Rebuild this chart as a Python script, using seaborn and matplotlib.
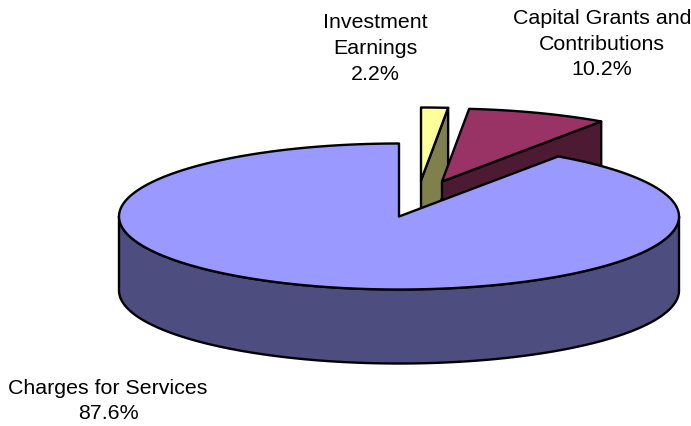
import numpy as np
import matplotlib
matplotlib.use("Agg")
import matplotlib.pyplot as plt
import seaborn as sns

# --- data ---
categories = ["Investment\nEarnings", "Capital Grants and\nContributions", "Charges for Services"]
shares = [2.2, 10.2, 87.6]

# --- style ---
sns.set_theme(style="white")
plt.rcParams["font.family"] = ["Liberation Sans", "DejaVu Sans"]
top_colors = sns.color_palette(["#FFFF99", "#993366", "#9999FF"])
side_colors = sns.color_palette(["#80804D", "#4D1A33", "#4D4D80"])
LW = 1.7
CX, CY, RX, RY, DEPTH = 399, 217.5, 280, 73, 74
FORESHORTEN = 0.70
offsets = [(22, -36), (43, -35), (0, 0)]
label_pos = [(375.5, 48.5), (602, 44), (108, 401)]

fig = plt.figure(figsize=(6.91, 4.27), dpi=100)
ax = fig.add_axes([0, 0, 1, 1])
ax.set_xlim(0, 691)
ax.set_ylim(427, 0)
ax.set_axis_off()


def rim_angle(share_cum):
    theta = np.deg2rad(share_cum * 3.6)
    return np.arctan2(FORESHORTEN * np.sin(theta), np.cos(theta)) % (2 * np.pi)


def rim(a0, a1, n=240):
    a = np.linspace(a0, a1, n)
    return RX * np.sin(a), -RY * np.cos(a)


def poly(xs, ys, color, z):
    ax.fill(xs, ys, facecolor=color, edgecolor="black", linewidth=LW,
            joinstyle="round", zorder=z)


cum = np.concatenate([[0], np.cumsum(shares)])
for i in range(3):
    a0 = rim_angle(cum[i])
    a1 = rim_angle(cum[i + 1]) if i < 2 else 2 * np.pi
    dx, dy = offsets[i]
    vx, vy = CX + dx, CY + dy
    ex, ey = rim(a0, a1)
    ex, ey = ex + vx, ey + vy
    z = i * 2 + 1
    if i < 2:
        # visible cut wall on the clockwise edge of the slice
        poly([vx, ex[-1], ex[-1], vx], [vy, ey[-1], ey[-1] + DEPTH, vy + DEPTH], side_colors[i], z)
    else:
        # outer front wall of the cylinder
        fx, fy = rim(np.pi / 2, 3 * np.pi / 2)
        fx, fy = fx + vx, fy + vy
        poly(np.r_[fx, fx[::-1]], np.r_[fy, fy[::-1] + DEPTH], side_colors[i], z)
    poly(np.r_[vx, ex], np.r_[vy, ey], top_colors[i], z + 1)

for name, share, (x, y) in zip(categories, shares, label_pos):
    ax.text(x, y, f"{name}\n{share:.1f}%", ha="center", va="center",
            fontsize=15.4, color="black", linespacing=1.46, zorder=10)

fig.savefig("out.png", dpi=100, facecolor="white")
